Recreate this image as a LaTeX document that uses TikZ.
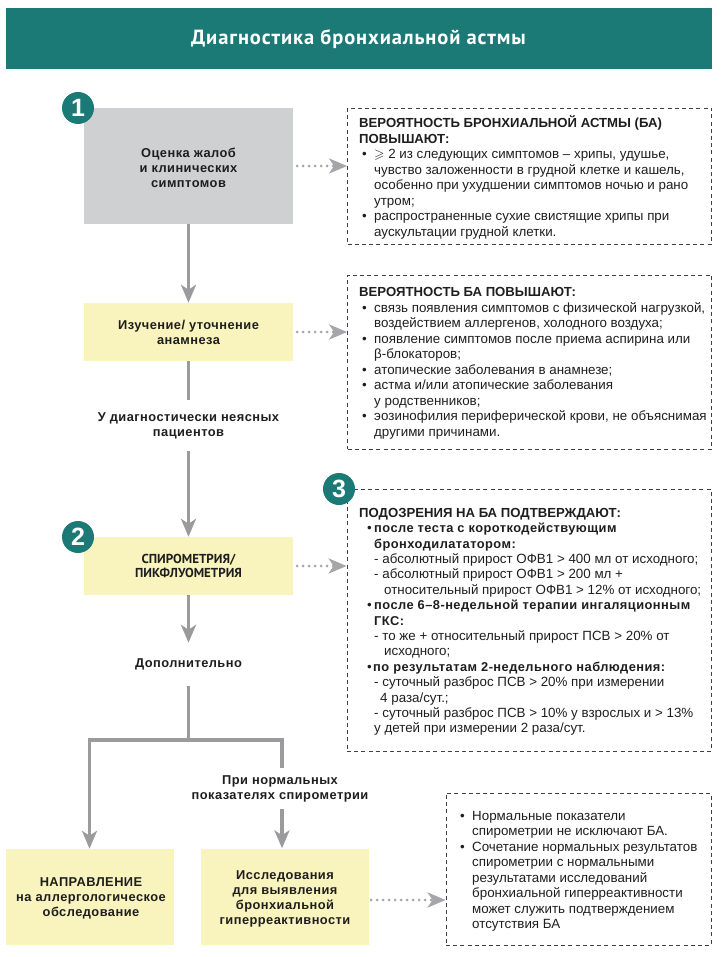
\documentclass[tikz,border=0pt]{standalone}
\usepackage{amssymb}
\usepackage{fontspec}
\setmainfont{Liberation Sans}
\newfontfamily\wideb[LetterSpace=3.5]{Liberation Sans}
\newfontfamily\condb{PT Sans}
\newfontfamily\titleb[LetterSpace=4.5]{PT Sans}
\usetikzlibrary{arrows.meta}
\definecolor{teal1}{HTML}{1C7A76}
\definecolor{gray1}{HTML}{CFD0D2}
\definecolor{yel1}{HTML}{F9F4BE}
\definecolor{line1}{HTML}{9B9B9D}
\definecolor{dots1}{HTML}{A5A6A9}
\definecolor{ink1}{HTML}{1E1E1E}
\newcommand{\blt}{\hspace*{3pt}\makebox[12pt][l]{•}}
\newcommand{\indt}{\hspace*{15pt}}
\newcommand{\gs}{$\geqslant$}
\newcommand{\hd}[1]{{\fontsize{13.15}{15.5}\selectfont\bfseries #1}}
\newcommand{\sbh}[1]{{\fontsize{12.85}{15.4}\selectfont\wideb\bfseries #1}}
\tikzset{
  x=1pt,y=-1pt,
  boxg/.style={fill=gray1,inner sep=0,minimum width=209pt,minimum height=116pt},
  boxy/.style={fill=yel1,inner sep=0,minimum width=209pt,minimum height=58pt},
  boxb/.style={fill=yel1,inner sep=0,minimum width=168pt,minimum height=96pt},
  lab/.style={inner sep=0,align=center,text=ink1,font=\fontsize{12.85}{15}\selectfont\wideb\bfseries},
  cond/.style={inner sep=0,align=center,text=ink1,font=\fontsize{13}{14}\selectfont\condb\bfseries},
  dbox/.style={draw=ink1!85,line width=0.8pt,dash pattern=on 4pt off 3.2pt,inner sep=0},
  txt/.style={inner sep=0,align=left,anchor=north west,text=ink1,font=\fontsize{13.35}{15.5}\selectfont},
  main/.style={draw=line1,line width=3.6pt},
  mainar/.style={main,-{Stealth[length=18pt,width=15pt,inset=5pt]}},
  dotar/.style={draw=dots1,line width=3pt,line cap=round,dash pattern=on 0pt off 6pt,
     -{Stealth[length=18pt,width=15pt,inset=5pt,sep=0pt,line cap=butt]}},
  num/.style={circle,fill=teal1,minimum size=32pt,inner sep=0,text=white,font=\fontsize{25}{25}\selectfont\bfseries},
}
\begin{document}
\begin{tikzpicture}
\useasboundingbox (0,0) rectangle (720,957);
\node[fill=teal1,inner sep=0,minimum width=706pt,minimum height=61pt] (head) at (359,38.5) {};
\node[inner sep=0,text=white,font=\fontsize{20.5}{20.5}\selectfont\titleb\bfseries] (title) at (358.5,39) {Диагностика бронхиальной астмы};

\node[boxg] (b1) at (188.5,166) {};
\node[boxy] (b2) at (188.5,332) {};
\node[boxy] (b3) at (188.5,566) {};
\node[boxb] (b4) at (90,897) {};
\node[boxb] (b5) at (285,896.5) {};

\node[lab] (t1) at (188.5,167.5) {Оценка жалоб\\и клинических\\симптомов};
\node[lab] (t2) at (188.5,332.5) {Изучение/ уточнение\\анамнеза};
\node[cond] (t3) at (188.5,566) {СПИРОМЕТРИЯ/\\ПИКФЛУОМЕТРИЯ};
\node[lab] (t4) at (91,898) {НАПРАВЛЕНИЕ\\на аллергологическое\\обследование};
\node[lab] (t5) at (285,898.5) {Исследования\\для выявления\\бронхиальной\\гиперреактивности};

\node[lab,minimum height=51pt] (q1) at (188.5,425.5) {У диагностически неясных\\пациентов};
\node[lab,minimum height=43pt] (q2) at (188.5,664.5) {Дополнительно};
\node[lab,minimum height=41pt] (q3) at (280,788.5) {При нормальных\\показателях спирометрии};

\coordinate (jc) at (188.5,740);
\coordinate (jl) at (89.5,740);
\coordinate (jr) at (282,740);

\draw[mainar] (b1.south) -- (b2.north);
\draw[main] (b2.south) -- (q1.north);
\draw[mainar] (q1.south) -- (b3.north);
\draw[mainar] (b3.south) -- (q2.north);
\draw[main] (q2.south) -- (jc);
\draw[mainar,line join=miter] (jr |- q3.north) -- (jr) -- (jl) -- (jl |- b4.north);
\draw[mainar] (jr |- q3.south) -- (jr |- b5.north);

\node[dbox,minimum width=364pt,minimum height=136pt] (d1) at (529.5,176) {};
\node[dbox,minimum width=364pt,minimum height=174pt] (d2) at (529.5,362) {};
\node[dbox,minimum width=364pt,minimum height=262pt] (d3) at (529,620) {};
\node[dbox,minimum width=265pt,minimum height=152pt] (d4) at (578.5,869) {};

\draw[dotar] (b1.east |- 0,166) ++(4,0) coordinate (s1) -- (s1 -| d1.west);
\draw[dotar] (b2.east) ++(4,0) coordinate (s2) -- (s2 -| d2.west);
\draw[dotar] (b3.east) ++(4,0) coordinate (s3) -- (s3 -| d3.west);
\draw[dotar] (b5.east |- 0,900) ++(2,0) coordinate (s4) -- (s4 -| d4.west);

\node[num] (n1) at (78,108) {1};
\node[num] (n2) at (78,537) {2};
\node[num] (n3) at (339,489) {3};

\node[txt] (x1) at (359,115.5) {\hd{ВЕРОЯТНОСТЬ БРОНХИАЛЬНОЙ АСТМЫ (БА)}\\
\hd{ПОВЫШАЮТ:}\\
\blt\gs\ 2 из следующих симптомов – хрипы, удушье,\\
\indt чувство заложенности в грудной клетке и кашель,\\
\indt особенно при ухудшении симптомов ночью и рано\\
\indt утром;\\
\blt распространенные сухие свистящие хрипы при\\
\indt аускультации грудной клетки.};

\node[txt] (x2) at (359,287.5) {\hd{ВЕРОЯТНОСТЬ БА ПОВЫШАЮТ:}\\
\blt связь появления симптомов с физической нагрузкой,\\
\indt воздействием аллергенов, холодного воздуха;\\
\blt появление симптомов после приема аспирина или\\
\indt β-блокаторов;\\
\blt атопические заболевания в анамнезе;\\
\blt астма и/или атопические заболевания\\
\indt у родственников;\\
\blt эозинофилия периферической крови, не объяснимая\\
\indt другими причинами.};

\node[txt,font=\fontsize{13.35}{15.4}\selectfont] (x3) at (359,508) {\hd{ПОДОЗРЕНИЯ НА БА ПОДТВЕРЖДАЮТ:}\\
\hspace*{8pt}\makebox[7pt][l]{•}\sbh{после теста с короткодействующим}\\
\indt\sbh{бронходилататором:}\\
\indt - абсолютный прирост ОФВ1 > 400 мл от исходного;\\
\indt - абсолютный прирост ОФВ1 > 200 мл +\\
\indt\hspace*{10pt}относительный прирост ОФВ1 > 12\% от исходного;\\
\hspace*{8pt}\makebox[7pt][l]{•}\sbh{после 6–8-недельной терапии ингаляционным}\\
\indt\sbh{ГКС:}\\
\indt - то же + относительный прирост ПСВ > 20\% от\\
\indt\hspace*{10pt}исходного;\\
\hspace*{8pt}\makebox[6pt][l]{•}\sbh{по результатам 2-недельного наблюдения:}\\
\indt - суточный разброс ПСВ > 20\% при измерении\\
\indt\hspace*{6pt}4 раза/сут.;\\
\indt - суточный разброс ПСВ > 10\% у взрослых и > 13\%\\
\indt у детей при измерении 2 раза/сут.};

\node[txt] (x4) at (457,811) {\blt Нормальные показатели\\
\indt спирометрии не исключают БА.\\
\blt Сочетание нормальных результатов\\
\indt спирометрии с нормальными\\
\indt результатами исследований\\
\indt бронхиальной гиперреактивности\\
\indt может служить подтверждением\\
\indt отсутствия БА};
\end{tikzpicture}
\end{document}
